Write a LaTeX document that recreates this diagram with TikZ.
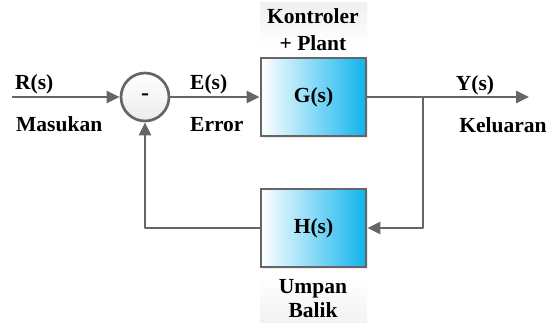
\documentclass[tikz,border=0pt]{standalone}
\usepackage{fontspec}
\setmainfont{Liberation Serif}
\usetikzlibrary{arrows.meta,shadows}
\definecolor{lc}{HTML}{666666}
\definecolor{bc}{HTML}{10B4EE}
\tikzset{
  lbl/.style={font=\fontsize{21.5}{24}\selectfont\bfseries, inner sep=0pt, anchor=base west},
  lblc/.style={font=\fontsize{21.5}{24}\selectfont\bfseries, inner sep=0pt, anchor=base},
  blk/.style={draw=lc, line width=2.7pt, left color=white, right color=bc, minimum width=105pt, minimum height=78pt, inner sep=0pt, font=\fontsize{21.5}{24}\selectfont\bfseries, drop shadow={opacity=0.15, shadow xshift=2pt, shadow yshift=-2pt}},
  sumc/.style={circle, draw=lc, line width=2.7pt, top color=white, bottom color=gray!15, minimum size=48pt, inner sep=0pt, font=\fontsize{24}{26}\selectfont\bfseries},
  con/.style={draw=lc, line width=2.7pt, line join=round},
  arr/.style={con, -{Triangle[length=13pt,width=12pt]}},
  bg/.style={top color=gray!12, bottom color=white, draw=none}
}
\begin{document}
\begin{tikzpicture}[x=1pt,y=-1pt]
\useasboundingbox (0,0) rectangle (550,322);
\fill[bg] (260,2) rectangle (367,46);
\fill[top color=white, bottom color=gray!10, draw=none] (260,276) rectangle (367,322);
\node[sumc] (sum) at (145,97) {-};
\node[blk] (G) at (313.5,97) {G(s)};
\node[blk] (H) at (313.5,228) {H(s)};
\coordinate (in) at (12,97);
\coordinate (out) at (529,97);
\coordinate (j) at (423,97);
\coordinate (jd) at (423,228);
\coordinate (fl) at (145,228);
\draw[arr] (in) -- (sum.west);
\draw[arr] (sum.east) -- (G.west);
\draw[arr] (G.east) -- (out);
\draw[arr] (j) -- (jd) -- (H.east);
\draw[arr] (H.west) -- (fl) -- (sum.south);
\node[lbl] (r) at (15,89) {R(s)};
\node[lbl] (m) at (16,131) {Masukan};
\node[lbl] (e) at (190,89) {E(s)};
\node[lbl] (er) at (190,131) {Error};
\node[lblc] (y) at (475,90) {Y(s)};
\node[lblc] (k) at (503,132) {Keluaran};
\node[lblc] (k1) at (313,23) {Kontroler};
\node[lblc] (k2) at (313,50) {+ Plant};
\node[lblc] (u1) at (313,293) {Umpan};
\node[lblc] (u2) at (313,317) {Balik};
\end{tikzpicture}
\end{document}
